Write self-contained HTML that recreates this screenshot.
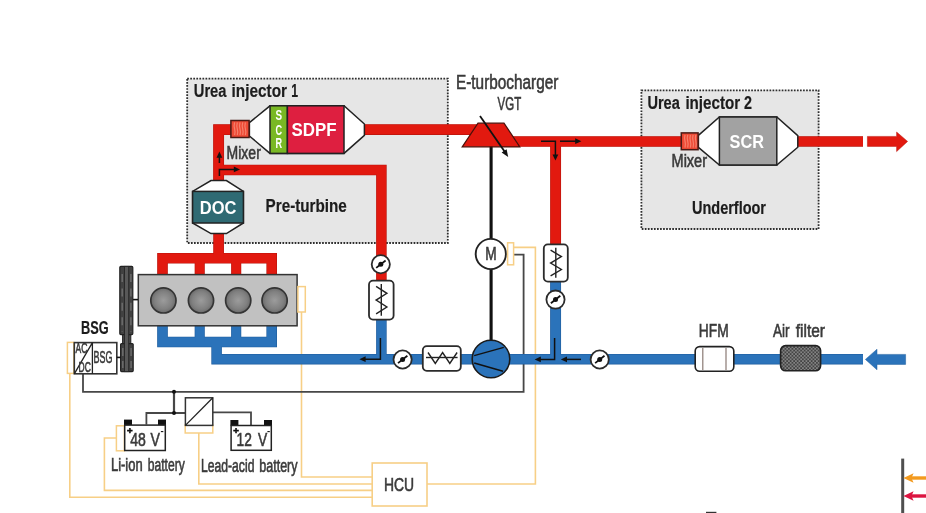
<!DOCTYPE html>
<html lang="en"><head><meta charset="utf-8"><title>Powertrain layout</title>
<style>
html,body{margin:0;padding:0;background:#fff;}
body{width:926px;height:513px;overflow:hidden;}
svg{display:block;font-family:"Liberation Sans",sans-serif;will-change:transform;}
</style></head><body>
<svg width="926" height="513" viewBox="0 0 926 513">
<defs>
<radialGradient id="cyl" cx="50%" cy="50%" r="50%"><stop offset="0" stop-color="#9c9c9c"/><stop offset="0.7" stop-color="#808080"/><stop offset="1" stop-color="#6a6a6a"/></radialGradient>
<pattern id="dots" width="3.5" height="3.5" patternUnits="userSpaceOnUse" x="781" y="346.2"><rect width="3.5" height="3.5" fill="#444"/><circle cx="0.9" cy="0.9" r="0.68" fill="#d8d8d8"/><circle cx="2.65" cy="2.65" r="0.68" fill="#d8d8d8"/></pattern>
</defs>
<rect width="926" height="513" fill="#fff"/>
<rect x="187.2" y="78.6" width="260.6" height="164.4" fill="#e6e6e6" stroke="#2e2e2e" stroke-width="1.8" stroke-dasharray="1.7 1.35"/>
<rect x="641.4" y="90.3" width="177.2" height="138.7" fill="#e6e6e6" stroke="#2e2e2e" stroke-width="1.8" stroke-dasharray="1.7 1.35"/>
<path d="M69.8 373V497.2H372" stroke="#f7cf86" stroke-width="1.6" fill="none"/>
<path d="M116 438H104.4V490.4H372" stroke="#f7cf86" stroke-width="1.6" fill="none"/>
<path d="M198.8 433V484H372" stroke="#f7cf86" stroke-width="1.6" fill="none"/>
<path d="M301.5 312V477H372" stroke="#f7cf86" stroke-width="1.6" fill="none"/>
<path d="M427 484H535.4V247.4H513.6" stroke="#f7cf86" stroke-width="1.6" fill="none"/>
<path d="M83 374V391.8H523.6V254.6H513.6" stroke="#474747" stroke-width="1.8" fill="none"/>
<path d="M174 391.8V413" stroke="#474747" stroke-width="2.2" fill="none"/>
<path d="M146.4 424.4V413H185" stroke="#474747" stroke-width="1.8" fill="none"/>
<path d="M213 412.4H251V425" stroke="#474747" stroke-width="1.8" fill="none"/>
<circle cx="174" cy="391.8" r="2" fill="#111"/><circle cx="174" cy="413" r="2" fill="#111"/>
<path d="M162.5 275V258.3H271.7V275" stroke="#b8150d" stroke-width="10.6" fill="none" stroke-linejoin="miter"/>
<path d="M199.7 258V275M236.2 258V275" stroke="#b8150d" stroke-width="10.1" fill="none" stroke-linejoin="miter"/>
<path d="M218.6 258V232" stroke="#b8150d" stroke-width="10.7" fill="none" stroke-linejoin="miter"/>
<path d="M218.6 182V129.6H231" stroke="#b8150d" stroke-width="10.9" fill="none" stroke-linejoin="miter"/>
<path d="M218.6 170H381.4V281" stroke="#b8150d" stroke-width="10.5" fill="none" stroke-linejoin="miter"/>
<path d="M363 129.6H490" stroke="#b8150d" stroke-width="10.7" fill="none" stroke-linejoin="miter"/>
<path d="M500 141.5H682" stroke="#b8150d" stroke-width="10.5" fill="none" stroke-linejoin="miter"/>
<path d="M555.6 141.5V245" stroke="#b8150d" stroke-width="10.9" fill="none" stroke-linejoin="miter"/>
<path d="M797 141.4H863" stroke="#b8150d" stroke-width="10.5" fill="none" stroke-linejoin="miter"/>
<path d="M162.5 275V258.3H271.7V275" stroke="#e2190f" stroke-width="9.4" fill="none" stroke-linejoin="miter"/>
<path d="M199.7 258V275M236.2 258V275" stroke="#e2190f" stroke-width="8.9" fill="none" stroke-linejoin="miter"/>
<path d="M218.6 258V232" stroke="#e2190f" stroke-width="9.5" fill="none" stroke-linejoin="miter"/>
<path d="M218.6 182V129.6H231" stroke="#e2190f" stroke-width="9.700000000000001" fill="none" stroke-linejoin="miter"/>
<path d="M218.6 170H381.4V281" stroke="#e2190f" stroke-width="9.3" fill="none" stroke-linejoin="miter"/>
<path d="M363 129.6H490" stroke="#e2190f" stroke-width="9.5" fill="none" stroke-linejoin="miter"/>
<path d="M500 141.5H682" stroke="#e2190f" stroke-width="9.3" fill="none" stroke-linejoin="miter"/>
<path d="M555.6 141.5V245" stroke="#e2190f" stroke-width="9.700000000000001" fill="none" stroke-linejoin="miter"/>
<path d="M797 141.4H863" stroke="#e2190f" stroke-width="9.3" fill="none" stroke-linejoin="miter"/>
<polygon points="867.4,136.4 896.6,136.4 896.6,132 907.6,141.4 896.6,151.6 896.6,146.4 867.4,146.4" fill="#e2190f" stroke="#b8150d" stroke-width="0.5"/>
<path d="M162.5 325V342H271.7V325" stroke="#1f5c9c" stroke-width="10.6" fill="none" stroke-linejoin="miter"/>
<path d="M199.7 325V342M236.2 325V342" stroke="#1f5c9c" stroke-width="10.1" fill="none" stroke-linejoin="miter"/>
<path d="M216.6 342V359.2H863" stroke="#1f5c9c" stroke-width="10.5" fill="none" stroke-linejoin="miter"/>
<path d="M381.4 319V359" stroke="#1f5c9c" stroke-width="10.5" fill="none" stroke-linejoin="miter"/>
<path d="M555.6 281V359" stroke="#1f5c9c" stroke-width="10.9" fill="none" stroke-linejoin="miter"/>
<path d="M162.5 325V342H271.7V325" stroke="#2b73ba" stroke-width="9.4" fill="none" stroke-linejoin="miter"/>
<path d="M199.7 325V342M236.2 325V342" stroke="#2b73ba" stroke-width="8.9" fill="none" stroke-linejoin="miter"/>
<path d="M216.6 342V359.2H863" stroke="#2b73ba" stroke-width="9.3" fill="none" stroke-linejoin="miter"/>
<path d="M381.4 319V359" stroke="#2b73ba" stroke-width="9.3" fill="none" stroke-linejoin="miter"/>
<path d="M555.6 281V359" stroke="#2b73ba" stroke-width="9.700000000000001" fill="none" stroke-linejoin="miter"/>
<polygon points="865.4,359.4 877,349.2 877,354.4 905.6,354.4 905.6,364.4 877,364.4 877,369.8" fill="#2b73ba" stroke="#1f5c9c" stroke-width="0.5"/>
<rect x="138.3" y="274.6" width="158.8" height="51.2" fill="#c1c1c1" stroke="#333" stroke-width="1.5"/>
<circle cx="163.4" cy="300.4" r="12.6" fill="url(#cyl)" stroke="#343434" stroke-width="1.7"/>
<circle cx="201" cy="300.4" r="12.6" fill="url(#cyl)" stroke="#343434" stroke-width="1.7"/>
<circle cx="238.2" cy="300.4" r="12.6" fill="url(#cyl)" stroke="#343434" stroke-width="1.7"/>
<circle cx="274.6" cy="300.4" r="12.6" fill="url(#cyl)" stroke="#343434" stroke-width="1.7"/>
<rect x="297.9" y="286.6" width="7.4" height="25.4" fill="#fff" stroke="#f7cf86" stroke-width="1.5"/>
<path d="M133 299.6H138" stroke="#111" stroke-width="1.6"/>
<rect x="122.6" y="330" width="8.2" height="16" fill="#4a4a4a" stroke="#222" stroke-width="1"/>
<rect x="119.8" y="266.4" width="13" height="68.2" rx="1" fill="#414141" stroke="#222" stroke-width="1.2"/>
<rect x="120.6" y="343.6" width="12.6" height="28" rx="1" fill="#414141" stroke="#222" stroke-width="1.2"/>
<path d="M122.2 274V332M130.9 274V332" stroke="#6c6c6c" stroke-width="1.5" stroke-dasharray="8 6.4"/>
<path d="M122.8 348V368M131.1 348V368" stroke="#6c6c6c" stroke-width="1.5" stroke-dasharray="8 5"/>
<rect x="124.5" y="266.4" width="4.2" height="105.2" fill="#585858" stroke="#262626" stroke-width="0.9"/>
<polygon points="211,180.6 226.4,180.6 243.4,191.4 243.4,223 226.4,233.6 211,233.6 192.6,223 192.6,191.4" fill="#fff" stroke="#222" stroke-width="1.5" stroke-linejoin="miter"/>
<rect x="192.6" y="191.4" width="50.8" height="31.6" fill="#2f6a73" stroke="#222" stroke-width="1.5"/>
<text x="199.77" y="214.4" font-size="18.4" textLength="36.66" lengthAdjust="spacingAndGlyphs" fill="#fff" font-weight="700">DOC</text>
<polygon points="249.4,122.6 270,105.8 344,105.8 364.4,124 364.4,135.4 344,153.4 270,153.4 249.4,136" fill="#fff" stroke="#222" stroke-width="1.5"/>
<rect x="270" y="105.8" width="17.4" height="47.6" fill="#79b824" stroke="#222" stroke-width="1.5"/>
<rect x="287.4" y="105.8" width="56.6" height="47.6" fill="#de1f40" stroke="#222" stroke-width="1.5"/>
<rect x="230.9" y="120.5" width="18.2" height="17.0" fill="#ee4a35" stroke="#4a1a14" stroke-width="1.5"/>
<path d="M234.6 122.4q-0.9 3.2 0 6.4t0 6.4" stroke="#f6806c" stroke-width="1.2" fill="none"/>
<path d="M237.3 122.4q-0.9 3.2 0 6.4t0 6.4" stroke="#f6806c" stroke-width="1.2" fill="none"/>
<path d="M240.0 122.4q-0.9 3.2 0 6.4t0 6.4" stroke="#f6806c" stroke-width="1.2" fill="none"/>
<path d="M242.7 122.4q-0.9 3.2 0 6.4t0 6.4" stroke="#f6806c" stroke-width="1.2" fill="none"/>
<path d="M245.4 122.4q-0.9 3.2 0 6.4t0 6.4" stroke="#f6806c" stroke-width="1.2" fill="none"/>
<text font-size="15" font-weight="700" fill="#fff" text-anchor="middle"><tspan x="278.9" y="119.5" textLength="6.6" lengthAdjust="spacingAndGlyphs">S</tspan><tspan x="278.9" y="134.9" textLength="6.6" lengthAdjust="spacingAndGlyphs">C</tspan><tspan x="278.9" y="148.4" textLength="6.6" lengthAdjust="spacingAndGlyphs">R</tspan></text>
<text x="291.59" y="136.0" font-size="18" textLength="45.02" lengthAdjust="spacingAndGlyphs" fill="#fff" font-weight="700">SDPF</text>
<polygon points="698.4,135.4 719.4,117 776.8,117 797.8,135.6 797.8,147.2 776.8,165 719.4,165 698.4,147.4" fill="#fff" stroke="#222" stroke-width="1.5"/>
<rect x="719.4" y="117" width="57.4" height="48" fill="#a2a2a2" stroke="#222" stroke-width="1.5"/>
<rect x="681.3" y="132.9" width="16.8" height="16.8" fill="#ee4a35" stroke="#4a1a14" stroke-width="1.5"/>
<path d="M685.0 134.8q-0.9 3.2 0 6.4t0 6.4" stroke="#f6806c" stroke-width="1.2" fill="none"/>
<path d="M687.7 134.8q-0.9 3.2 0 6.4t0 6.4" stroke="#f6806c" stroke-width="1.2" fill="none"/>
<path d="M690.4 134.8q-0.9 3.2 0 6.4t0 6.4" stroke="#f6806c" stroke-width="1.2" fill="none"/>
<path d="M693.1 134.8q-0.9 3.2 0 6.4t0 6.4" stroke="#f6806c" stroke-width="1.2" fill="none"/>
<path d="M695.8 134.8q-0.9 3.2 0 6.4t0 6.4" stroke="#f6806c" stroke-width="1.2" fill="none"/>
<text x="729.58" y="148.0" font-size="18" textLength="34.42" lengthAdjust="spacingAndGlyphs" fill="#fff" font-weight="700">SCR</text>
<path d="M491.1 146V341" stroke="#111" stroke-width="3.1"/>
<polygon points="478,123.2 504,123.2 519.8,146.8 462.2,146.8" fill="#e2190f" stroke="#4a100a" stroke-width="1.2"/>
<path d="M480 116L505.6 153" stroke="#111" stroke-width="1.8"/>
<polygon points="508.2,157 501.6,152.6 506.6,149.2" fill="#111"/>
<circle cx="490.8" cy="254" r="15.1" fill="#fff" stroke="#222" stroke-width="1.9"/>
<text x="485.16" y="260.4" font-size="18" textLength="11.39" lengthAdjust="spacingAndGlyphs" fill="#3a3a3a" stroke="#3a3a3a" stroke-width="0.6">M</text>
<rect x="507.6" y="242.8" width="6" height="22" fill="#fff" stroke="#f7cf86" stroke-width="1.5"/>
<circle cx="491" cy="359" r="18.8" fill="#2b73ba" stroke="#1b1b1b" stroke-width="1.6"/>
<path d="M474.2 355.6L503.8 347.4M474.2 363L503 371.2" stroke="#111" stroke-width="1.5"/>
<circle cx="380.8" cy="264.3" r="9.1" fill="#fff" stroke="#2b2b2b" stroke-width="1.8"/>
<path d="M376.2 267.9L385.6 260.5" stroke="#111" stroke-width="1.8" fill="none"/>
<circle cx="380.8" cy="264.3" r="2.5" fill="#111"/>
<rect x="369.0" y="280.6" width="24.6" height="39.0" rx="4" fill="#fff" stroke="#2b2b2b" stroke-width="1.8"/>
<path d="M381.3 284.0V315.7" stroke="#222" stroke-width="1.4" fill="none"/>
<path d="M376.1 286.4L386.9 293.3L376.1 300.1L386.9 307.0L376.1 313.9" stroke="#222" stroke-width="1.4" fill="none" stroke-linejoin="miter"/>
<rect x="543.8" y="244.4" width="24.0" height="37.2" rx="4" fill="#fff" stroke="#2b2b2b" stroke-width="1.8"/>
<path d="M555.8 247.8V277.7" stroke="#222" stroke-width="1.4" fill="none"/>
<path d="M550.6 250.2L561.4 256.6L550.6 263.1L561.4 269.5L550.6 275.9" stroke="#222" stroke-width="1.4" fill="none" stroke-linejoin="miter"/>
<circle cx="555.5" cy="299.6" r="9.1" fill="#fff" stroke="#2b2b2b" stroke-width="1.8"/>
<path d="M550.9 303.2L560.3 295.8" stroke="#111" stroke-width="1.8" fill="none"/>
<circle cx="555.5" cy="299.6" r="2.5" fill="#111"/>
<circle cx="402.6" cy="359.5" r="9.1" fill="#fff" stroke="#2b2b2b" stroke-width="1.8"/>
<path d="M398.0 363.1L407.4 355.7" stroke="#111" stroke-width="1.8" fill="none"/>
<circle cx="402.6" cy="359.5" r="2.5" fill="#111"/>
<circle cx="599.7" cy="359.5" r="9.1" fill="#fff" stroke="#2b2b2b" stroke-width="1.8"/>
<path d="M595.1 363.1L604.5 355.7" stroke="#111" stroke-width="1.8" fill="none"/>
<circle cx="599.7" cy="359.5" r="2.5" fill="#111"/>
<rect x="422.8" y="346.2" width="38.0" height="24.6" rx="4" fill="#fff" stroke="#2b2b2b" stroke-width="1.8"/>
<path d="M426.0 357.5H457.6" stroke="#222" stroke-width="1.4" fill="none"/>
<path d="M428.0 352.5L435.3 363.5L442.6 352.5L449.8 363.5L457.1 352.5" stroke="#222" stroke-width="1.4" fill="none"/>
<rect x="695.2" y="346.6" width="38.6" height="24.6" rx="4.5" fill="#fff" stroke="#222" stroke-width="1.6"/>
<path d="M702.8 348V370M726 348V370" stroke="#8a7a74" stroke-width="1.2"/>
<rect x="780.6" y="345.6" width="40" height="25.2" rx="5" fill="url(#dots)" stroke="#222" stroke-width="1.6"/>
<path d="M219.4 163V156" stroke="#111" stroke-width="1.5" fill="none"/>
<polygon points="219.4,151.6 216.5,157.8 222.3,157.8" fill="#111"/>
<path d="M219.4 176V169.4H235" stroke="#111" stroke-width="1.5" fill="none"/>
<polygon points="240.0,169.4 233.8,166.5 233.8,172.3" fill="#111"/>
<path d="M541 141.2H555.4V155" stroke="#111" stroke-width="1.5" fill="none"/>
<polygon points="555.4,160.6 552.5,154.4 558.3,154.4" fill="#111"/>
<path d="M560 141.2H576" stroke="#111" stroke-width="1.5" fill="none"/>
<polygon points="581.4,141.2 575.2,138.3 575.2,144.1" fill="#111"/>
<path d="M380.4 338V359.2H365" stroke="#111" stroke-width="1.5" fill="none"/>
<polygon points="359.4,359.2 365.6,356.3 365.6,362.1" fill="#111"/>
<path d="M554.6 338V359.4H540" stroke="#111" stroke-width="1.5" fill="none"/>
<polygon points="534.6,359.4 540.8,356.5 540.8,362.3" fill="#111"/>
<path d="M581 359.4H566" stroke="#111" stroke-width="1.5" fill="none"/>
<polygon points="560.8,359.4 567.0,356.5 567.0,362.3" fill="#111"/>
<rect x="67.4" y="342.4" width="6.4" height="31" fill="#fff" stroke="#f7cf86" stroke-width="1.5"/>
<rect x="74.3" y="342.6" width="42.5" height="31.2" fill="#fff" stroke="#333" stroke-width="1.6"/>
<path d="M92.4 342.6V373.8M92.4 342.6L74.3 373.8" stroke="#222" stroke-width="1.3" fill="none"/>
<path d="M116.8 357.4H120.4" stroke="#111" stroke-width="1.6"/>
<text x="80.95" y="333.6" font-size="17.8" textLength="27.68" lengthAdjust="spacingAndGlyphs" fill="#1c1c1c" stroke="#1c1c1c" stroke-width="0.2" font-weight="700">BSG</text>
<text x="93.56" y="363.0" font-size="15.8" textLength="18.87" lengthAdjust="spacingAndGlyphs" fill="#3a3a3a" stroke="#3a3a3a" stroke-width="0.6">BSG</text>
<text x="75.59" y="353.2" font-size="13.8" textLength="11.83" lengthAdjust="spacingAndGlyphs" fill="#3a3a3a" stroke="#3a3a3a" stroke-width="0.6">AC</text>
<text x="78.57" y="372.2" font-size="13.8" textLength="12.24" lengthAdjust="spacingAndGlyphs" fill="#3a3a3a" stroke="#3a3a3a" stroke-width="0.6">DC</text>
<rect x="116.4" y="425.8" width="8" height="25" fill="#fff" stroke="#f7cf86" stroke-width="1.5"/>
<rect x="124" y="419.6" width="8" height="5.6" fill="#111"/><rect x="158" y="419.6" width="8" height="5.6" fill="#111"/>
<rect x="124.7" y="425.1" width="40.6" height="25.4" fill="#fff" stroke="#222" stroke-width="1.5"/>
<text y="445.8" font-size="19" fill="#3a3a3a" stroke="#3a3a3a" stroke-width="0.6"><tspan x="130.18" textLength="15.62" lengthAdjust="spacingAndGlyphs">48</tspan> <tspan x="150.41" textLength="9.44" lengthAdjust="spacingAndGlyphs">V</tspan></text>
<text x="129.8" y="433.8" font-size="9.6" font-weight="700" fill="#111" stroke="#111" stroke-width="0.6" text-anchor="middle">+</text>
<text x="162.0" y="433.7" font-size="9.6" font-weight="700" fill="#111" text-anchor="middle">-</text>
<rect x="230.4" y="420" width="8" height="5.6" fill="#111"/><rect x="264" y="420" width="8" height="5.6" fill="#111"/>
<rect x="231.1" y="425.5" width="40.2" height="24.8" fill="#fff" stroke="#222" stroke-width="1.5"/>
<text y="445.8" font-size="19" fill="#3a3a3a" stroke="#3a3a3a" stroke-width="0.6"><tspan x="236.53" textLength="15.32" lengthAdjust="spacingAndGlyphs">12</tspan> <tspan x="258.00" textLength="9.24" lengthAdjust="spacingAndGlyphs">V</tspan></text>
<text x="236.1" y="433.8" font-size="9.6" font-weight="700" fill="#111" stroke="#111" stroke-width="0.6" text-anchor="middle">+</text>
<text x="268.6" y="433.7" font-size="9.6" font-weight="700" fill="#111" text-anchor="middle">-</text>
<rect x="185.2" y="425" width="27.6" height="8" fill="#fff" stroke="#f7cf86" stroke-width="1.5"/>
<rect x="185.4" y="397.8" width="27.4" height="27.6" fill="#fff" stroke="#333" stroke-width="1.5"/>
<path d="M185.4 425.4L212.8 397.8" stroke="#222" stroke-width="1.3"/>
<rect x="372.2" y="463" width="54.8" height="43" fill="#fff" stroke="#f7cf86" stroke-width="1.6"/>
<text x="383.92" y="491.0" font-size="18.6" textLength="30.15" lengthAdjust="spacingAndGlyphs" fill="#3a3a3a" stroke="#3a3a3a" stroke-width="0.6">HCU</text>
<text y="97.2" font-size="18.8" fill="#1c1c1c" stroke="#1c1c1c" stroke-width="0.2" font-weight="700"><tspan x="193.79" textLength="32.62" lengthAdjust="spacingAndGlyphs">Urea</tspan> <tspan x="231.56" textLength="55.44" lengthAdjust="spacingAndGlyphs">injector</tspan> <tspan x="291.14" textLength="6.83" lengthAdjust="spacingAndGlyphs">1</tspan></text>
<text x="226.60" y="159.4" font-size="18" textLength="34.21" lengthAdjust="spacingAndGlyphs" fill="#3a3a3a" stroke="#3a3a3a" stroke-width="0.6">Mixer</text>
<text x="265.58" y="212.1" font-size="18.5" textLength="81.22" lengthAdjust="spacingAndGlyphs" fill="#1c1c1c" stroke="#1c1c1c" stroke-width="0.2" font-weight="700">Pre-turbine</text>
<text x="455.99" y="88.9" font-size="19.6" textLength="102.41" lengthAdjust="spacingAndGlyphs" fill="#3a3a3a" stroke="#3a3a3a" stroke-width="0.6">E-turbocharger</text>
<text x="497.58" y="110.3" font-size="18.2" textLength="23.63" lengthAdjust="spacingAndGlyphs" fill="#3a3a3a" stroke="#3a3a3a" stroke-width="0.6">VGT</text>
<text y="109.4" font-size="18.8" fill="#1c1c1c" stroke="#1c1c1c" stroke-width="0.2" font-weight="700"><tspan x="647.39" textLength="32.40" lengthAdjust="spacingAndGlyphs">Urea</tspan> <tspan x="685.38" textLength="54.82" lengthAdjust="spacingAndGlyphs">injector</tspan> <tspan x="743.88" textLength="8.00" lengthAdjust="spacingAndGlyphs">2</tspan></text>
<text x="671.58" y="167.4" font-size="18" textLength="35.42" lengthAdjust="spacingAndGlyphs" fill="#3a3a3a" stroke="#3a3a3a" stroke-width="0.6">Mixer</text>
<text x="691.99" y="214.4" font-size="18.4" textLength="74.01" lengthAdjust="spacingAndGlyphs" fill="#1c1c1c" stroke="#1c1c1c" stroke-width="0.2" font-weight="700">Underfloor</text>
<text y="471.4" font-size="17.6" fill="#3a3a3a" stroke="#3a3a3a" stroke-width="0.6"><tspan x="110.94" textLength="31.72" lengthAdjust="spacingAndGlyphs">Li-ion</tspan> <tspan x="147.80" textLength="37.00" lengthAdjust="spacingAndGlyphs">battery</tspan></text>
<text y="471.5" font-size="17.6" fill="#3a3a3a" stroke="#3a3a3a" stroke-width="0.6"><tspan x="200.99" textLength="53.43" lengthAdjust="spacingAndGlyphs">Lead-acid</tspan> <tspan x="259.20" textLength="38.40" lengthAdjust="spacingAndGlyphs">battery</tspan></text>
<text x="698.78" y="337.1" font-size="18.2" textLength="29.88" lengthAdjust="spacingAndGlyphs" fill="#3a3a3a" stroke="#3a3a3a" stroke-width="0.6">HFM</text>
<text y="337.1" font-size="18.2" fill="#3a3a3a" stroke="#3a3a3a" stroke-width="0.6"><tspan x="773.00" textLength="16.62" lengthAdjust="spacingAndGlyphs">Air</tspan> <tspan x="795.79" textLength="29.21" lengthAdjust="spacingAndGlyphs">filter</tspan></text>
<rect x="901.2" y="458.6" width="3" height="55" fill="#4f4f4f"/>
<path d="M926 478H910" stroke="#f39a1e" stroke-width="3.4"/>
<polygon points="903.4,478 913.6,473.2 911.4,478 913.6,482.8" fill="#f39a1e"/>
<path d="M926 496H910" stroke="#dc1440" stroke-width="3.4"/>
<polygon points="903.4,496 913.6,491.2 911.4,496 913.6,500.8" fill="#dc1440"/>
<rect x="706" y="511.8" width="10.4" height="2" fill="#333"/>
</svg>
</body></html>
